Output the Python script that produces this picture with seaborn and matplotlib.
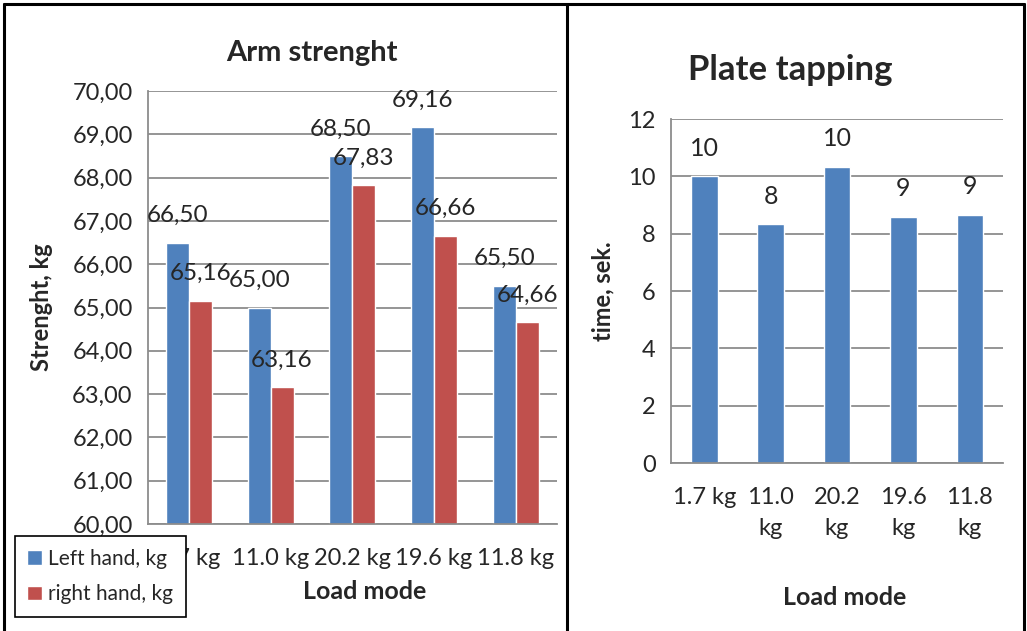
import pandas as pd
import matplotlib.pyplot as plt
import seaborn as sns
from matplotlib.lines import Line2D
from matplotlib.ticker import FuncFormatter, MultipleLocator

# data
loads = ['1.7 kg', '11.0 kg', '20.2 kg', '19.6 kg', '11.8 kg']
left_hand = [66.50, 65.00, 68.50, 69.16, 65.50]
right_hand = [65.16, 63.16, 67.83, 66.66, 64.66]
hands = ['Left hand, kg', 'right hand, kg']

tap_loads = ['1.7 kg', '11.0\nkg', '20.2\nkg', '19.6\nkg', '11.8\nkg']
tap_times = [10.0, 8.33, 10.33, 8.58, 8.66]

blue = '#4F81BD'
red = '#C0504D'
grid_c = '#8C8C8C'

sns.set_style('white')
plt.rcParams['font.family'] = ['Lato', 'DejaVu Sans']

arm = pd.DataFrame({
    'load': loads * 2,
    'value': left_hand + right_hand,
    'hand': [hands[0]] * 5 + [hands[1]] * 5,
})

fig = plt.figure(figsize=(10.27, 6.31), dpi=100)
ax1 = fig.add_axes([0.1441, 0.1696, 0.398, 0.686])
ax2 = fig.add_axes([0.6534, 0.2662, 0.3233, 0.545])

# --- Arm strenght
sns.barplot(data=arm, x='load', y='value', hue='hand', palette=[blue, red],
            width=0.56, ax=ax1, saturation=1)
ax1.set_ylim(60, 70)
ax1.yaxis.set_major_locator(MultipleLocator(1))
ax1.yaxis.set_major_formatter(FuncFormatter(lambda v, p: f'{v:.2f}'.replace('.', ',')))
for cont in ax1.containers:
    ax1.bar_label(cont, labels=[f'{b.get_height():.2f}'.replace('.', ',') for b in cont],
                  padding=12, fontsize=17.5)
ax1.set_title('Arm strenght', fontsize=21, fontweight='bold', pad=22, x=0.40)
ax1.set_xlabel('Load mode', fontsize=18, fontweight='bold', labelpad=8, x=0.53)
ax1.set_ylabel('Strenght, kg', fontsize=17, fontweight='bold', labelpad=14)
ax1.legend(loc='lower left', bbox_to_anchor=(0.0146, 0.0222), bbox_transform=fig.transFigure,
           frameon=True, fancybox=False, edgecolor='black', framealpha=1, fontsize=15,
           handlelength=0.7, handleheight=0.7, handletextpad=0.3,
           labelspacing=0.75, borderpad=0.6, borderaxespad=0)
ax1.get_legend().get_frame().set_linewidth(1.2)

# --- Plate tapping
sns.barplot(x=tap_loads, y=tap_times, color=blue, width=0.4, ax=ax2, saturation=1)
ax2.set_ylim(0, 12)
ax2.yaxis.set_major_locator(MultipleLocator(2))
ax2.bar_label(ax2.containers[0], labels=[f'{v:.0f}' for v in tap_times],
              padding=12, fontsize=18)
ax2.set_title('Plate tapping', fontsize=25, fontweight='bold', pad=28, x=0.36)
ax2.set_xlabel('Load mode', fontsize=18, fontweight='bold', labelpad=34, x=0.524)
ax2.set_ylabel('time, sek.', fontsize=17, fontweight='bold', labelpad=10)

for ax, xpad in [(ax1, 17), (ax2, 17)]:
    ax.grid(axis='y', color=grid_c, linewidth=1.3)
    ax.set_axisbelow(True)
    for s in ['top', 'right']:
        ax.spines[s].set_visible(False)
    for s in ['left', 'bottom']:
        ax.spines[s].set_color(grid_c)
        ax.spines[s].set_linewidth(1.3)
    ax.tick_params(axis='y', length=7, color=grid_c, width=1.3, labelsize=17, pad=4)
    ax.tick_params(axis='x', length=0, labelsize=17, pad=xpad)

for t in ax2.get_xticklabels():
    t.set_linespacing(1.6)

# table-like frame around the two charts
for xs, ys in [([0.0039, 0.997], [0.9937, 0.9937]),
               ([0.0039, 0.0039], [0.0, 0.9937]),
               ([0.552, 0.552], [0.0, 0.9937]),
               ([0.997, 0.997], [0.0, 0.9937])]:
    fig.add_artist(Line2D(xs, ys, color='black', linewidth=2.2, transform=fig.transFigure))

plt.savefig('out.png', dpi=100)
